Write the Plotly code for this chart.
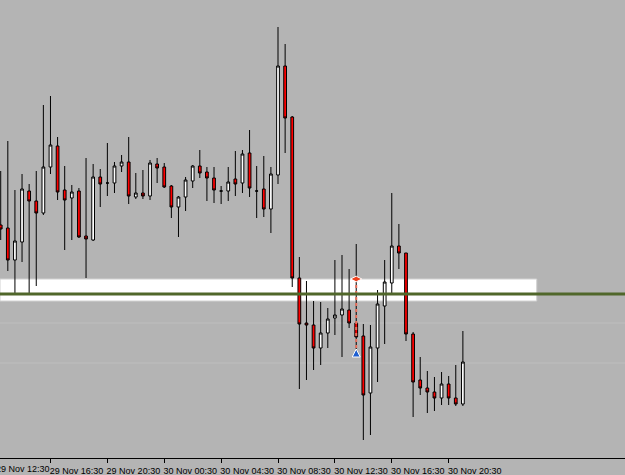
import pandas as pd
import plotly.graph_objects as go

# 30-minute candles, 29 Nov 13:00 -> 30 Nov 21:30 (prices in points)
times = pd.date_range("2012-11-29 13:00", periods=66, freq="30min")
opens = [235, 232, 200, 218, 269, 259, 247, 293, 314, 270, 262, 269, 224, 220,
         283, 277, 277, 294, 298, 263, 267, 264, 296, 293, 274, 253, 263, 279,
         294, 288, 282, 269, 269, 281, 277, 307, 269, 271, 251, 285, 394, 343,
         182, 137, 135, 112, 127, 142, 145, 150, 137, 124, 67, 112, 154, 177,
         214, 207, 126, 80, 72, 68, 62, 76, 62, 56]
highs = [289, 319, 270, 286, 276, 289, 355, 364, 323, 294, 275, 272, 302, 296,
         291, 317, 298, 305, 323, 287, 290, 300, 302, 297, 275, 264, 283, 295,
         310, 293, 293, 274, 293, 309, 310, 330, 294, 304, 293, 433, 416, 344,
         203, 179, 159, 158, 152, 200, 205, 191, 216, 136, 135, 170, 200, 267,
         236, 207, 128, 103, 89, 83, 88, 84, 95, 129]
lows = [220, 189, 167, 198, 167, 174, 245, 286, 260, 210, 220, 222, 182, 219,
        253, 264, 267, 288, 256, 261, 261, 260, 277, 272, 242, 223, 249, 272,
        282, 259, 257, 256, 259, 264, 267, 263, 242, 243, 227, 276, 307, 173,
        71, 80, 90, 95, 112, 125, 103, 132, 108, 20, 25, 78, 116, 167,
        191, 119, 43, 65, 47, 49, 55, 55, 54, 54]
closes = [231, 200, 219, 271, 259, 247, 293, 315, 268, 260, 268, 223, 221, 283,
          276, 277, 294, 298, 264, 267, 264, 297, 292, 273, 253, 263, 280, 294,
          287, 282, 270, 269, 278, 276, 306, 272, 269, 251, 286, 394, 342, 182,
          136, 135, 112, 127, 141, 145, 151, 137, 123, 65, 113, 156, 178, 214,
          207, 126, 78, 72, 68, 62, 76, 62, 56, 98]

# Horizontal levels
zone_top, zone_bottom = 181, 159
level_line = 166
faint_levels = [137, 97]

# Trade markers (open / close) on the 30 Nov 14:00 candle
trade_time = pd.Timestamp("2012-11-30 14:00")
trade_open, trade_close = 181, 111

tick_times = pd.to_datetime([
    "2012-11-29 16:30", "2012-11-29 20:30", "2012-11-30 00:30", "2012-11-30 04:30",
    "2012-11-30 08:30", "2012-11-30 12:30", "2012-11-30 16:30", "2012-11-30 20:30"])
tick_text = ["29 Nov 16:30", "29 Nov 20:30", "30 Nov 00:30", "30 Nov 04:30",
             "30 Nov 08:30", "30 Nov 12:30", "30 Nov 16:30", "30 Nov 20:30"]
first_label = "29 Nov 12:30"

BG = "#B4B4B4"
FONT = "Liberation Sans"

anchor = pd.Timestamp("2012-11-29 16:30")
half = pd.Timedelta(minutes=30)
x_range = [anchor - half * 7.10, anchor + half * 80.80]

fig = go.Figure()
fig.add_trace(go.Candlestick(
    x=times, open=opens, high=highs, low=lows, close=closes,
    increasing=dict(line=dict(color="black", width=1), fillcolor="white"),
    decreasing=dict(line=dict(color="black", width=1), fillcolor="#FF0000"),
    whiskerwidth=0, hoverinfo="skip", showlegend=False,
))
fig.add_trace(go.Scatter(
    x=[trade_time, trade_time], y=[trade_open, trade_close], mode="lines",
    line=dict(color="#E8705C", width=2, dash="dot"), hoverinfo="skip", showlegend=False,
))
fig.add_trace(go.Scatter(
    x=[trade_time], y=[trade_open], mode="markers",
    marker=dict(symbol="diamond-wide", size=8, color="#F0401C",
                line=dict(color="white", width=1)),
    hoverinfo="skip", showlegend=False,
))
fig.add_trace(go.Scatter(
    x=[trade_time], y=[trade_close], mode="markers",
    marker=dict(symbol="arrow-up", size=8, color="#1E5FD0",
                line=dict(color="white", width=1)),
    hoverinfo="skip", showlegend=False,
))

shapes = [
    dict(type="rect", xref="paper", x0=0, x1=0.8587, yref="y", y0=zone_bottom, y1=zone_top,
         fillcolor="white", line=dict(color="#D2D2D2", width=1), layer="below"),
    dict(type="line", xref="paper", x0=0, x1=1, yref="y", y0=level_line, y1=level_line,
         line=dict(color="#50672A", width=3), layer="above"),
]
for lv in faint_levels:
    shapes.append(dict(type="line", xref="paper", x0=0, x1=1, yref="y", y0=lv, y1=lv,
                       line=dict(color="#BEBEBE", width=1), layer="below"))

fig.update_layout(
    width=625, height=475,
    margin=dict(l=0, r=0, t=0, b=17),
    paper_bgcolor=BG, plot_bgcolor=BG,
    boxgap=0.45,
    shapes=shapes,
    showlegend=False,
    font=dict(family=FONT, size=9, color="black"),
    annotations=[dict(
        text=first_label, xref="paper", x=0, xanchor="left", xshift=-6,
        yref="paper", y=0, yanchor="top", yshift=-4, showarrow=False,
        font=dict(family=FONT, size=9, color="black"))],
)
fig.update_xaxes(
    type="date", range=x_range, rangeslider=dict(visible=False),
    showgrid=False, zeroline=False,
    showline=True, linecolor="black", linewidth=1,
    tickmode="array", tickvals=tick_times, ticktext=tick_text,
    ticks="outside", ticklen=4, tickcolor="black", tickwidth=1,
    ticklabelshift=26, ticklabelstandoff=0,
    tickfont=dict(family=FONT, size=9, color="black"),
)
fig.update_yaxes(range=[2, 460], showgrid=False, zeroline=False, showticklabels=False,
                 showline=False)

fig.write_html("out.html")
